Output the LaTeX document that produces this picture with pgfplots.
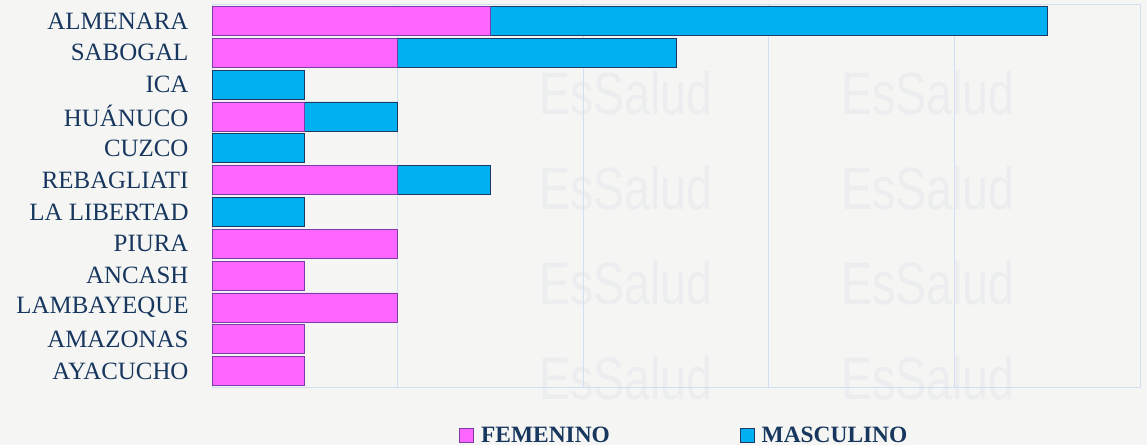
\documentclass[border=0pt]{standalone}
\usepackage{pgfplots}
\pgfplotsset{compat=1.18}
\usepackage{fontspec}
\setmainfont{Liberation Serif}
\newfontfamily\wmfont{Liberation Sans}
\definecolor{bg}{HTML}{F5F5F4}
\definecolor{wm}{HTML}{EBEDEF}
\definecolor{fem}{HTML}{FF66FF}
\definecolor{femb}{HTML}{7A3CA8}
\definecolor{mas}{HTML}{00B0F0}
\definecolor{masb}{HTML}{1F3864}
\definecolor{txt}{HTML}{17375E}
\definecolor{gridc}{HTML}{D0DFF1}
\begin{document}
\begin{tikzpicture}[x=1bp,y=1bp]
\fill[bg] (0,0) rectangle (1147,445);
\useasboundingbox (0,0) rectangle (1147,445);
\foreach \xx in {713,1015}{
  \foreach \yy in {352,257,162,67}{
    \node[anchor=east,text=wm,font=\wmfont\fontsize{60}{60}\selectfont,xscale=0.78,inner sep=0] at (\xx,\yy) {EsSalud};
  }
}
\begin{axis}[
  at={(212bp,58bp)}, anchor=south west,
  scale only axis, width=928bp, height=382bp,
  xbar stacked, bar width=29bp,
  xmin=0, xmax=10, ymin=-0.5, ymax=11.5, y dir=reverse,
  xtick={0,2,4,6,8,10}, xticklabels={},
  xmajorgrids, grid style={gridc, line width=0.8pt},
  major tick length=0pt,
  axis line style={gridc, line width=1pt},
  ytick={0,...,11},
  yticklabels={ALMENARA,SABOGAL,ICA,HUÁNUCO,CUZCO,REBAGLIATI,LA LIBERTAD,PIURA,ANCASH,LAMBAYEQUE,AMAZONAS,AYACUCHO},
  yticklabel style={text=txt, font=\fontsize{25}{26}\selectfont, xshift=-20bp},
  legend columns=2,
  legend style={at={(0.509,-0.126)}, anchor=center, draw=none, fill=none,
    font=\bfseries\fontsize{23.5}{25}\selectfont, text=txt,
    /tikz/every even column/.append style={column sep=128bp}},
  legend image code/.code={\draw[#1] (0bp,-7bp) rectangle (14bp,7bp);},
  every axis plot/.append style={line width=0.8pt},
]
\addplot[fill=fem, draw=femb] coordinates {
(3,0) (2,1) (0,2) (1,3) (0,4) (2,5) (0,6) (2,7) (1,8) (2,9) (1,10) (1,11)};
\addplot[fill=mas, draw=masb] coordinates {
(6,0) (3,1) (1,2) (1,3) (1,4) (1,5) (1,6) (0,7) (0,8) (0,9) (0,10) (0,11)};
\legend{\hspace{5bp}FEMENINO, \hspace{5bp}MASCULINO}
\end{axis}
\end{tikzpicture}
\end{document}
